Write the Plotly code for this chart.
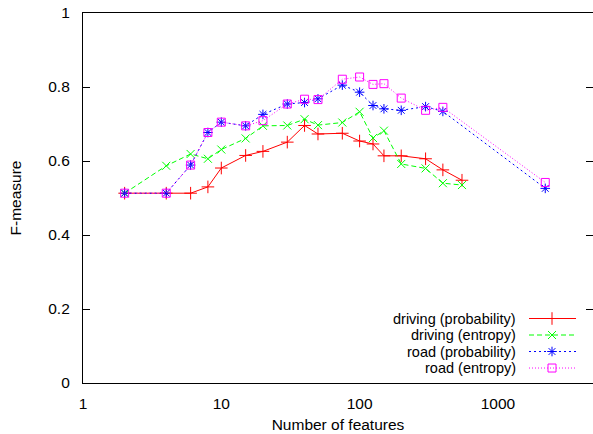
import plotly.graph_objects as go

# ---------------- data ----------------
n_features = [2, 4, 6, 8, 10, 15, 20, 30, 40, 50, 75, 100, 125, 150, 200, 300, 400, 550]
driving_prob = [0.513, 0.513, 0.513, 0.530, 0.581, 0.615, 0.626, 0.651, 0.696, 0.673,
                0.675, 0.654, 0.646, 0.614, 0.614, 0.606, 0.576, 0.548]
driving_entr = [0.513, 0.587, 0.619, 0.606, 0.631, 0.661, 0.695, 0.696, 0.713, 0.697,
                0.704, 0.733, 0.662, 0.682, 0.592, 0.580, 0.540, 0.535]

road_features = [2, 4, 6, 8, 10, 15, 20, 30, 40, 50, 75, 100, 125, 150, 200, 300, 400, 2200]
road_prob = [0.513, 0.513, 0.589, 0.677, 0.705, 0.695, 0.726, 0.754, 0.758, 0.768,
             0.805, 0.786, 0.750, 0.741, 0.737, 0.747, 0.734, 0.526]
road_entr = [0.513, 0.513, 0.589, 0.677, 0.705, 0.695, 0.709, 0.754, 0.767, 0.766,
             0.821, 0.827, 0.807, 0.809, 0.770, 0.737, 0.745, 0.542]

series_names = ["driving (probability)", "driving (entropy)", "road (probability)", "road (entropy)"]
x_ticks = [1, 10, 100, 1000]
x_tick_labels = ["1", "10", "100", "1000"]
y_ticks = [0, 0.2, 0.4, 0.6, 0.8, 1]
y_tick_labels = ["0", "0.2", "0.4", "0.6", "0.8", "1"]

# ---------------- styles ----------------
FONT = "Liberation Sans, Arial, sans-serif"
FS = 15.5
LEG_FS = 14.5
styles = [
    dict(color="#ff0000", dash="solid", symbol="cross-thin", size=9),
    dict(color="#00ff00", dash="5px,3px", symbol="x-thin", size=8),
    dict(color="#0000ff", dash="2px,3px", symbol="asterisk", size=8),
    dict(color="#ff00ff", dash="1px,2px", symbol="square-open", size=8),
]
xs = [n_features, n_features, road_features, road_features]
ys = [driving_prob, driving_entr, road_prob, road_entr]

fig = go.Figure()
for name, x, y, st in zip(series_names, xs, ys, styles):
    fig.add_trace(go.Scatter(
        x=x, y=y, mode="lines+markers", name=name, showlegend=False,
        line=dict(color=st["color"], width=1, dash=st["dash"]),
        marker=dict(symbol=st["symbol"], size=st["size"], color=st["color"],
                    line=dict(color=st["color"], width=1)),
        xaxis="x", yaxis="y",
    ))

# ---------------- custom legend (text left, sample right) ----------------
leg_rows = [0.1743, 0.1297, 0.0851, 0.0405]
leg_x0, leg_xm, leg_x1 = 0.8745, 0.9196, 0.9667
leg_text_x = 0.851
for name, st, yr in zip(series_names, styles, leg_rows):
    fig.add_trace(go.Scatter(
        x=[leg_x0, leg_x1], y=[yr, yr], mode="lines", showlegend=False,
        line=dict(color=st["color"], width=1, dash=st["dash"]),
        xaxis="x2", yaxis="y2", hoverinfo="skip",
    ))
    fig.add_trace(go.Scatter(
        x=[leg_xm], y=[yr], mode="markers", showlegend=False,
        marker=dict(symbol=st["symbol"], size=st["size"], color=st["color"],
                    line=dict(color=st["color"], width=1)),
        xaxis="x2", yaxis="y2", hoverinfo="skip",
    ))
    fig.add_annotation(
        x=leg_text_x, y=yr, xref="paper", yref="paper", text=name,
        showarrow=False, xanchor="right", yanchor="middle",
        font=dict(family=FONT, size=LEG_FS, color="black"), borderpad=0,
    )

plot_w = 593 - 83
x_max_log = plot_w / 138.3

fig.update_layout(
    width=593, height=434,
    margin=dict(l=83, r=0, t=13, b=51, pad=0),
    paper_bgcolor="white", plot_bgcolor="white",
    font=dict(family=FONT, size=FS, color="black"),
    showlegend=False,
    xaxis=dict(
        type="log", range=[0, x_max_log],
        tickvals=x_ticks, ticktext=x_tick_labels,
        ticks="", showgrid=False, zeroline=False,
        showline=True, linecolor="black", linewidth=1.2, mirror=True,
        ticklabelstandoff=6,
        title=dict(text="Number of features", font=dict(family=FONT, size=FS), standoff=8),
    ),
    yaxis=dict(
        range=[0, 1], tickvals=y_ticks, ticktext=y_tick_labels,
        ticks="inside", ticklen=7, tickcolor="black", tickwidth=1,
        showgrid=False, zeroline=False,
        showline=True, linecolor="black", linewidth=1.2, mirror="ticks",
        ticklabelstandoff=9,
        title=dict(text="F-measure", font=dict(family=FONT, size=FS), standoff=22),
    ),
    xaxis2=dict(range=[0, 1], overlaying="x", visible=False, anchor="y2"),
    yaxis2=dict(range=[0, 1], overlaying="y", visible=False, anchor="x2"),
)

fig.write_html(
    "out.html",
    config={"displayModeBar": False},
    post_script="document.body.style.margin='0';document.body.style.padding='0';",
)
